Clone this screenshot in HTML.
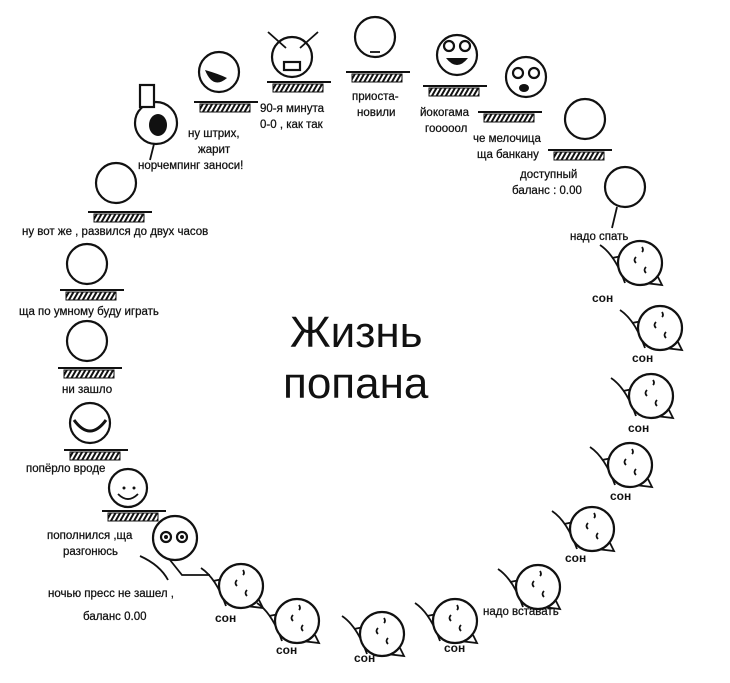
<!DOCTYPE html>
<html><head><meta charset="utf-8"><style>
body{margin:0;background:#fff;}
svg{display:block}
.t{font-family:"Liberation Sans","Noto Sans CJK SC",sans-serif;font-size:11.5px;fill:#111;stroke:#111;stroke-width:0.25}
.s{font-family:"Liberation Sans",sans-serif;font-size:12px;font-weight:bold;fill:#111}
.f{fill:#fff;stroke:#111;stroke-width:2.2}
.l{fill:none;stroke:#111;stroke-width:1.8}
</style></head><body>
<svg width="730" height="683" viewBox="0 0 730 683" xmlns="http://www.w3.org/2000/svg">
<defs>
<pattern id="h" width="4" height="4" patternUnits="userSpaceOnUse" patternTransform="rotate(30)"><rect width="2" height="4" fill="#111"/></pattern>
<g id="desk"><line x1="-32" y1="0" x2="32" y2="0" stroke="#111" stroke-width="2"/><rect x="-26" y="2" width="50" height="8" fill="url(#h)" stroke="#111" stroke-width="1"/></g>
<g id="sl"><path class="l" d="M-40,-18 Q-25,-8 -15,20"/><line class="l" x1="-28" y1="-5" x2="-18" y2="-7"/><path class="l" d="M-12,18 L22,22 L18,14"/><circle class="f" cx="0" cy="0" r="22"/><path class="l" d="M-4,-6 q-3,3 0,6 M6,4 q-3,3 0,6 M2,-16 q2,3 0,5"/></g>
</defs>
<g>
<circle class="f" cx="156" cy="123" r="21"/><ellipse cx="158" cy="125" rx="9" ry="11" fill="#111"/><rect x="140" y="85" width="14" height="22" class="f"/><line class="l" x1="154" y1="144" x2="150" y2="160"/>
<circle class="f" cx="219" cy="72" r="20"/><path d="M205,70 q8,20 22,8 q-8,-4 -22,-8z" fill="#111"/><use href="#desk" x="226" y="102"/>
<circle class="f" cx="292" cy="57" r="20"/><line class="l" x1="268" y1="32" x2="286" y2="48"/><line class="l" x1="318" y1="32" x2="300" y2="48"/><rect x="284" y="62" width="16" height="8" class="f"/><use href="#desk" x="299" y="82"/>
<circle class="f" cx="375" cy="37" r="20"/><line class="l" x1="370" y1="52" x2="380" y2="52"/><use href="#desk" x="378" y="72"/>
<circle class="f" cx="457" cy="55" r="20"/><circle class="f" cx="449" cy="46" r="5"/><circle class="f" cx="465" cy="46" r="5"/><path d="M446,58 q11,14 22,0z" fill="#111"/><use href="#desk" x="455" y="86"/>
<circle class="f" cx="526" cy="77" r="20"/><circle class="f" cx="518" cy="73" r="5"/><circle class="f" cx="534" cy="73" r="5"/><ellipse cx="524" cy="88" rx="5" ry="4" fill="#111"/><use href="#desk" x="510" y="112"/>
<circle class="f" cx="585" cy="119" r="20"/><use href="#desk" x="580" y="150"/>
<circle class="f" cx="625" cy="187" r="20"/><line class="l" x1="617" y1="207" x2="612" y2="228"/>
<circle class="f" cx="116" cy="183" r="20"/><use href="#desk" x="120" y="212"/>
<circle class="f" cx="87" cy="264" r="20"/><use href="#desk" x="92" y="290"/>
<circle class="f" cx="87" cy="341" r="20"/><use href="#desk" x="90" y="368"/>
<circle class="f" cx="90" cy="423" r="20"/><path d="M74,420 q16,22 32,0" fill="#fff" stroke="#111" stroke-width="3"/><use href="#desk" x="96" y="450"/>
<circle class="f" cx="128" cy="488" r="19"/><path class="l" d="M118,494 q10,10 20,0"/><circle cx="124" cy="488" r="1.5" fill="#111"/><circle cx="134" cy="488" r="1.5" fill="#111"/><use href="#desk" x="134" y="511"/>
<path class="l" d="M140,556 Q160,565 168,580 M170,560 L182,575 L210,575"/>
<circle class="f" cx="175" cy="538" r="22"/><circle class="f" cx="166" cy="537" r="5"/><circle class="f" cx="182" cy="537" r="5"/><circle cx="166" cy="537" r="2" fill="#111"/><circle cx="182" cy="537" r="2" fill="#111"/>
</g>
<use href="#sl" x="640" y="263"/>
<use href="#sl" x="660" y="328"/>
<use href="#sl" x="651" y="396"/>
<use href="#sl" x="630" y="465"/>
<use href="#sl" x="592" y="529"/>
<use href="#sl" x="538" y="587"/>
<use href="#sl" x="455" y="621"/>
<use href="#sl" x="382" y="634"/>
<use href="#sl" x="297" y="621"/>
<use href="#sl" x="241" y="586"/>
<text class="t" x="188" y="137">ну штрих,</text>
<text class="t" x="198" y="153">жарит</text>
<text class="t" x="138" y="169">норчемпинг заноси!</text>
<text class="t" x="260" y="112">90-я минута</text>
<text class="t" x="260" y="128">0-0 , как так</text>
<text class="t" x="352" y="100">приоста-</text>
<text class="t" x="357" y="116">новили</text>
<text class="t" x="420" y="116">йокогама</text>
<text class="t" x="425" y="132">гооооол</text>
<text class="t" x="473" y="142">че мелочица</text>
<text class="t" x="477" y="158">ща банкану</text>
<text class="t" x="520" y="178">доступный</text>
<text class="t" x="512" y="194">баланс : 0.00</text>
<text class="t" x="570" y="240">надо спать</text>
<text class="t" x="22" y="235">ну вот же , развился до двух часов</text>
<text class="t" x="19" y="315">ща по умному буду играть</text>
<text class="t" x="62" y="393">ни зашло</text>
<text class="t" x="26" y="472">попёрло вроде</text>
<text class="t" x="47" y="539">пополнился ,ща</text>
<text class="t" x="63" y="555">разгонюсь</text>
<text class="t" x="48" y="597">ночью пресс не зашел ,</text>
<text class="t" x="83" y="620">баланс 0.00</text>
<text class="t" x="483" y="615">надо вставать</text>
<text class="s" x="592" y="302">сон</text>
<text class="s" x="632" y="362">сон</text>
<text class="s" x="628" y="432">сон</text>
<text class="s" x="610" y="500">сон</text>
<text class="s" x="565" y="562">сон</text>
<text class="s" x="444" y="652">сон</text>
<text class="s" x="354" y="662">сон</text>
<text class="s" x="276" y="654">сон</text>
<text class="s" x="215" y="622">сон</text>
<text x="290" y="347" font-family="Liberation Sans,sans-serif" font-size="44" fill="#111">Жизнь</text>
<text x="283" y="398" font-family="Liberation Sans,sans-serif" font-size="44" fill="#111">попана</text>
</svg>
</body></html>
